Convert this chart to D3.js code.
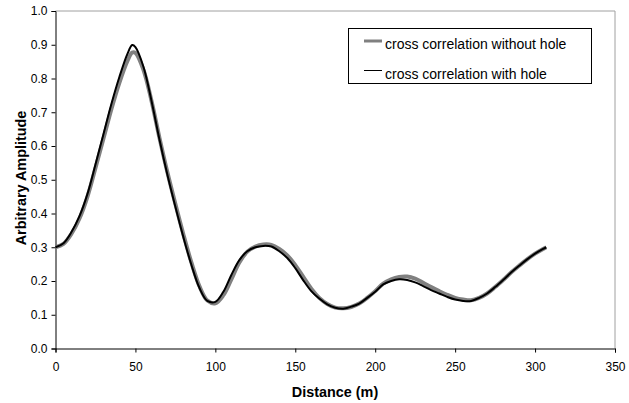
<!DOCTYPE html>
<html>
<head>
<meta charset="utf-8">
<script src="https://cdn.jsdelivr.net/npm/d3@7"></script>
<style>
  html, body { margin: 0; padding: 0; background: #fff; }
  svg { display: block; font-family: "Liberation Sans", Arial, sans-serif; }
</style>
</head>
<body>
<svg id="chart" width="629" height="403"></svg>
<script>
// distance (m) sample points
const distance = [0, 5, 10, 15, 20, 25, 30, 35, 40, 45, 48, 50, 55, 60, 65, 70, 75, 80, 85, 90, 95, 100,
  105, 110, 115, 120, 125, 130, 135, 140, 145, 150, 155, 160, 165, 170, 175, 180, 185, 190, 195, 200,
  205, 210, 215, 220, 225, 230, 235, 240, 245, 250, 255, 260, 265, 270, 275, 280, 285, 290, 295, 300, 305, 307];

const withoutHole = [0.300, 0.310, 0.340, 0.385, 0.450, 0.535, 0.622, 0.710, 0.788, 0.852, 0.877, 0.876, 0.826, 0.735, 0.625, 0.522, 0.428, 0.338, 0.255, 0.185, 0.142, 0.134,
  0.158, 0.205, 0.255, 0.287, 0.302, 0.308, 0.307, 0.295, 0.276, 0.247, 0.212, 0.177, 0.150, 0.132, 0.121, 0.119, 0.123, 0.133, 0.150, 0.170,
  0.192, 0.205, 0.212, 0.213, 0.207, 0.195, 0.182, 0.170, 0.159, 0.150, 0.145, 0.143, 0.150, 0.163, 0.182, 0.203, 0.225, 0.245, 0.264, 0.281, 0.295, 0.300];

const withHole = [0.300, 0.312, 0.345, 0.392, 0.458, 0.545, 0.635, 0.725, 0.805, 0.873, 0.899, 0.893, 0.835, 0.735, 0.620, 0.515, 0.420, 0.330, 0.248, 0.180, 0.141, 0.138,
  0.168, 0.218, 0.262, 0.288, 0.300, 0.304, 0.302, 0.288, 0.268, 0.238, 0.202, 0.170, 0.148, 0.131, 0.121, 0.118, 0.124, 0.133, 0.150, 0.168,
  0.190, 0.200, 0.205, 0.203, 0.196, 0.185, 0.173, 0.163, 0.153, 0.145, 0.141, 0.141, 0.150, 0.163, 0.182, 0.203, 0.225, 0.245, 0.264, 0.281, 0.295, 0.300];

const xTicks = [0, 50, 100, 150, 200, 250, 300, 350];
const yTicks = [0, 0.1, 0.2, 0.3, 0.4, 0.5, 0.6, 0.7, 0.8, 0.9, 1.0];
const seriesNames = ['cross correlation without hole', 'cross correlation with hole'];

const svg = d3.select('#chart');
const L = 55.5, R = 615, T = 11, B = 348.5;

const x = d3.scaleLinear().domain([0, 350]).range([L, R]);
const y = d3.scaleLinear().domain([0, 1]).range([B, T]);

// frame: grey top/right, black axes
svg.append('path').attr('d', `M${L},${T}H${R}V${B}`).attr('fill', 'none').attr('stroke', '#a0a0a0').attr('stroke-width', 1);

const gx = svg.append('g').attr('transform', `translate(0,${B})`)
  .call(d3.axisBottom(x).tickValues(xTicks).tickSize(4).tickPadding(10).tickFormat(d3.format('d')));
const gy = svg.append('g').attr('transform', `translate(${L},0)`)
  .call(d3.axisLeft(y).tickValues(yTicks).tickSize(4).tickPadding(4).tickFormat(d3.format('.1f')));
[gx, gy].forEach(g => {
  g.select('.domain').attr('stroke', '#000');
  g.selectAll('.tick line').attr('stroke', '#000');
  g.selectAll('.tick text').attr('font-size', '12px').attr('fill', '#000').attr('font-family', '"Liberation Sans", Arial, sans-serif');
});

const line = vals => d3.line().x((d, i) => x(distance[i])).y(d => y(d)).curve(d3.curveCatmullRom.alpha(0.5))(vals);

svg.append('path').attr('d', line(withoutHole)).attr('fill', 'none').attr('stroke', '#808080').attr('stroke-width', 4).attr('stroke-linejoin', 'round');
svg.append('path').attr('d', line(withHole)).attr('fill', 'none').attr('stroke', '#000').attr('stroke-width', 2).attr('stroke-linejoin', 'round');

// axis titles
svg.append('text').attr('x', 335).attr('y', 396.5).attr('text-anchor', 'middle')
  .attr('font-size', '14.4px').attr('font-weight', 'bold').text('Distance (m)');
svg.append('text').attr('transform', `translate(25.5,178) rotate(-90)`).attr('text-anchor', 'middle')
  .attr('font-size', '14.4px').attr('font-weight', 'bold').text('Arbitrary Amplitude');

// legend
const lg = svg.append('g').attr('transform', 'translate(348.5,28.5)');
lg.append('rect').attr('width', 243).attr('height', 55).attr('fill', '#fff').attr('stroke', '#000').attr('stroke-width', 1);
const legendStyle = [{ c: '#808080', w: 3, y: 12.5 }, { c: '#000', w: 1, y: 42 }];
seriesNames.forEach((name, i) => {
  const yy = legendStyle[i].y;
  lg.append('line').attr('x1', 15.5).attr('x2', 33.5).attr('y1', yy).attr('y2', yy)
    .attr('stroke', legendStyle[i].c).attr('stroke-width', legendStyle[i].w);
  lg.append('text').attr('x', 36.5).attr('y', yy + 8).attr('font-size', '14px').text(name);
});
</script>
</body>
</html>
